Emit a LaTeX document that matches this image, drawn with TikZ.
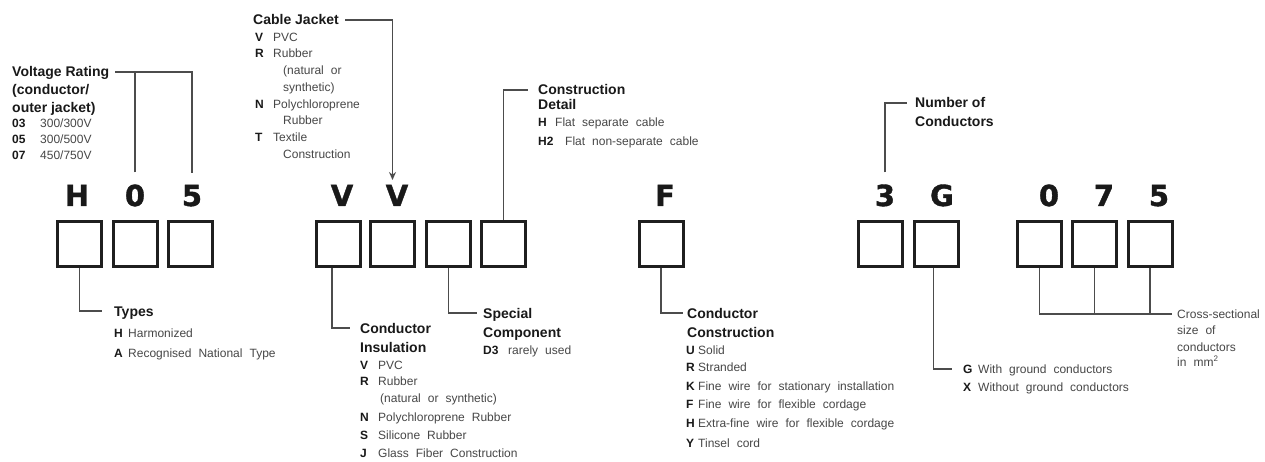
\documentclass[tikz,border=0pt]{standalone}
\usepackage{fontspec}
\setmainfont{Liberation Sans}
\newfontfamily\bodyfont{Liberation Sans}[WordSpace=2.1]
\newfontfamily\bigfont{DejaVu Sans}[BoldFeatures={FakeBold=1.3}]
\usetikzlibrary{arrows.meta}
\tikzset{
  box/.style={draw=black!88, line width=3pt, minimum width=44pt, minimum height=45pt, inner sep=0pt},
  big/.style={font=\bigfont\fontsize{29}{29}\selectfont\bfseries, text=black!90, inner sep=0pt, anchor=base},
  ttl/.style={font=\fontsize{14}{14}\selectfont\bfseries, text=black!90, inner sep=0pt, anchor=west, text height=10.5pt, text depth=0.5pt},
  bod/.style={font=\bodyfont\fontsize{12}{12}\selectfont, text=black!72, inner sep=0pt, anchor=west, text height=8.7pt, text depth=0.3pt},
  leader/.style={draw=black!70, line width=1.3pt},
}
\newcommand\cd[2]{\makebox[#1][l]{\bfseries\color{black!90}#2}}
\begin{document}
\begin{tikzpicture}[x=1pt,y=-1pt]
\fill[white] (0,0) rectangle (1265,462);
\useasboundingbox (0,0) rectangle (1265,462);

% big code letters
\node[big] (lH)  at (77,206)  {H};
\node[big] (l0a) at (135,206) {0};
\node[big] (l5a) at (192,206) {5};
\node[big] (lV1) at (342,206) {V};
\node[big] (lV2) at (397,206) {V};
\node[big] (lF)  at (665,206) {F};
\node[big] (l3)  at (885,206) {3};
\node[big] (lG)  at (942,206) {G};
\node[big] (l0b) at (1049,206) {0};
\node[big] (l7)  at (1104,206) {7};
\node[big] (l5b) at (1159,206) {5};

% boxes
\node[box] (h1) at (79.5,244) {};
\node[box] (h2) at (135,244) {};
\node[box] (h3) at (190,244) {};
\node[box] (v1) at (338,244) {};
\node[box] (v2) at (392.5,244) {};
\node[box] (v3) at (448.5,244) {};
\node[box] (v4) at (503.5,244) {};
\node[box] (f1) at (661,244) {};
\node[box] (n1) at (880.5,244) {};
\node[box] (n2) at (936.5,244) {};
\node[box] (s1) at (1039.5,244) {};
\node[box] (s2) at (1094.5,244) {};
\node[box] (s3) at (1150,244) {};

% Voltage rating
\node[ttl] (vr1) at (12,72) {Voltage Rating};
\node[ttl] (vr2) at (12,90) {(conductor/};
\node[ttl] (vr3) at (12,108) {outer jacket)};
\node[bod] (vr4) at (12,123) {\cd{28pt}{03}300/300V};
\node[bod] (vr5) at (12,139) {\cd{28pt}{05}300/500V};
\node[bod] (vr6) at (12,155) {\cd{28pt}{07}450/750V};
\draw[leader] ([xshift=6pt]vr1.east) -| ([yshift=12pt]l5a.north);
\draw[leader] ([yshift=12pt]l0a.north) -- (l0a.north |- vr1.east);

% Cable jacket
\node[ttl] (cj1) at (253,20) {Cable Jacket};
\node[bod] (cj2) at (255,37) {\cd{18pt}{V}PVC};
\node[bod] (cj3) at (255,53) {\cd{18pt}{R}Rubber};
\node[bod] (cj4) at (283,70) {(natural or};
\node[bod] (cj5) at (283,87) {synthetic)};
\node[bod] (cj6) at (255,104) {\cd{18pt}{N}Polychloroprene};
\node[bod] (cj7) at (283,120) {Rubber};
\node[bod] (cj8) at (255,137) {\cd{18pt}{T}Textile};
\node[bod] (cj9) at (283,154) {Construction};
\draw[leader,-{Stealth[length=8pt,width=7pt]}] ([xshift=6pt]cj1.east) -| ([yshift=40pt]v2.north);

% Construction detail
\node[ttl] (cd1) at (538,90) {Construction};
\node[ttl] (cd2) at (538,105) {Detail};
\node[bod] (cd3) at (538,122) {\cd{17pt}{H}Flat separate cable};
\node[bod] (cd4) at (538,141) {\cd{27pt}{H2}Flat non-separate cable};
\draw[leader] (v4.north) |- ([xshift=-10pt]cd1.west);

% Types
\node[ttl] (ty1) at (114,311) {Types};
\node[bod] (ty2) at (114,333) {\cd{14pt}{H}Harmonized};
\node[bod] (ty3) at (114,353) {\cd{14pt}{A}Recognised National Type};
\draw[leader] (h1.south) |- ([xshift=-12pt]ty1.west);

% Conductor insulation
\node[ttl] (ci1) at (360,328) {Conductor};
\node[ttl] (ci2) at (360,347) {Insulation};
\node[bod] (ci3) at (360,365) {\cd{18pt}{V}PVC};
\node[bod] (ci4) at (360,381) {\cd{18pt}{R}Rubber};
\node[bod] (ci5) at (380,398) {(natural or synthetic)};
\node[bod] (ci6) at (360,417) {\cd{18pt}{N}Polychloroprene Rubber};
\node[bod] (ci7) at (360,435) {\cd{18pt}{S}Silicone Rubber};
\node[bod] (ci8) at (360,453) {\cd{18pt}{J}Glass Fiber Construction};
\draw[leader] ([xshift=-6pt]v1.south) |- ([xshift=-10pt]ci1.west);

% Special component
\node[ttl] (sc1) at (483,313) {Special};
\node[ttl] (sc2) at (483,332) {Component};
\node[bod] (sc3) at (483,350) {\cd{25pt}{D3}rarely used};
\draw[leader] (v3.south) |- ([xshift=-6pt]sc1.west);

% Conductor construction
\node[ttl] (cc1) at (687,313) {Conductor};
\node[ttl] (cc2) at (687,332) {Construction};
\node[bod] (cc3) at (686,350) {\cd{12pt}{U}Solid};
\node[bod] (cc4) at (686,367) {\cd{12pt}{R}Stranded};
\node[bod] (cc5) at (686,386) {\cd{12pt}{K}Fine wire for stationary installation};
\node[bod] (cc6) at (686,404) {\cd{12pt}{F}Fine wire for flexible cordage};
\node[bod] (cc7) at (686,423) {\cd{12pt}{H}Extra-fine wire for flexible cordage};
\node[bod] (cc8) at (686,443) {\cd{12pt}{Y}Tinsel cord};
\draw[leader] (f1.south) |- ([xshift=-4pt]cc1.west);

% Number of conductors
\node[ttl] (nc1) at (915,103) {Number of};
\node[ttl] (nc2) at (915,122) {Conductors};
\draw[leader] ([yshift=12pt]l3.north) |- ([xshift=-8pt]nc1.west);

% Ground
\node[bod] (gx1) at (963,369) {\cd{15pt}{G}With ground conductors};
\node[bod] (gx2) at (963,387) {\cd{15pt}{X}Without ground conductors};
\draw[leader] ([xshift=-3pt]n2.south) |- ([xshift=-11pt]gx1.west);

% Cross-section
\node[bod] (cs1) at (1177,314) {Cross-sectional};
\node[bod] (cs2) at (1177,330) {size of};
\node[bod] (cs3) at (1177,347) {conductors};
\node[bod] (cs4) at (1177,362) {in mm\textsuperscript{2}};
\draw[leader] (s1.south) |- ([xshift=-5pt]cs1.west);
\draw[leader] (s2.south) -- (s2.south |- cs1.west);
\draw[leader] (s3.south) -- (s3.south |- cs1.west);
\end{tikzpicture}
\end{document}
